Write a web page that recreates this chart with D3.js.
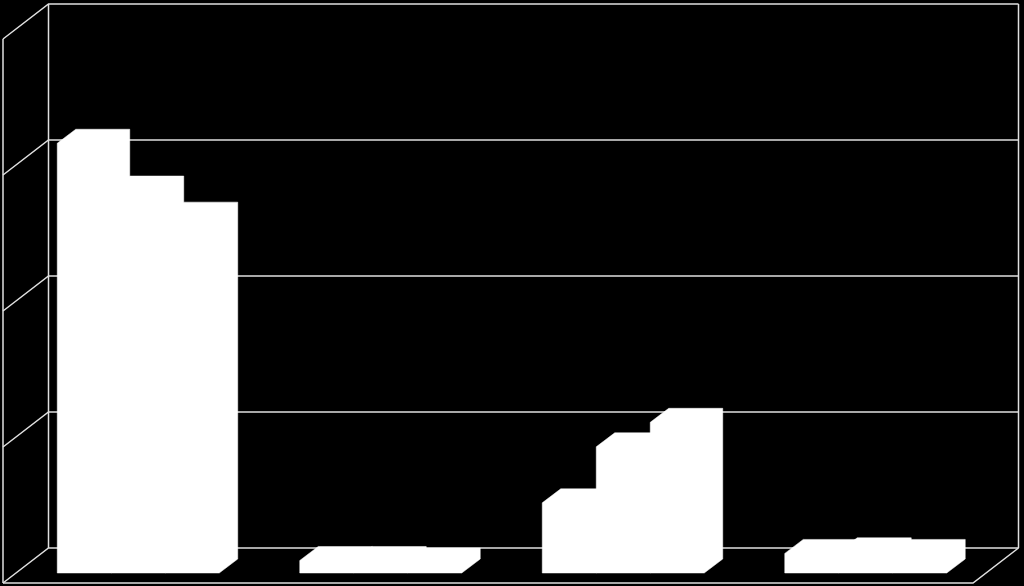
<!DOCTYPE html>
<html>
<head>
<meta charset="utf-8">
<style>
  html, body { margin: 0; padding: 0; background: #000; overflow: hidden; }
  svg { display: block; }
</style>
</head>
<body>
<svg width="1024" height="586"></svg>
<script src="https://d3js.org/d3.v7.min.js"></script>
<script>

// values, the chart has no visible labels
const categories = ["A", "B", "C", "D"];
const series = ["s1", "s2", "s3"];
const s1Values = [79.0, 2.3, 12.9, 3.6];
const s2Values = [70.4, 2.3, 23.2, 3.9];
const s3Values = [65.6, 2.0, 27.7, 3.6];
const yTicks = [0, 25, 50, 75, 100];

const svg = d3.select("svg");

// front plane of the 3d box
const left = 3, right = 973, bottom = 583;
const depthX = 45.5, depthY = -35;
// bars sit part way into the box
const barOffX = 14, barOffY = -10;
const barDepthX = 18.5, barDepthY = -14;

const x0 = d3.scaleBand().domain(categories).range([left, right]).paddingOuter(0.166).paddingInner(0.332);
const x1 = d3.scaleBand().domain(series).range([0, x0.bandwidth()]);
const y = d3.scaleLinear().domain([0, 100]).range([bottom, bottom - 544]);

const gridColor = "#e0e0e0";
const grid = svg.append("g")
  .attr("fill", "none")
  .attr("stroke", gridColor)
  .attr("stroke-width", 1.5);

// back wall and left wall lines at each tick
grid.selectAll("polyline")
  .data(yTicks)
  .enter()
  .append("polyline")
  .attr("points", function(d) {
    return [[left, y(d)], [left + depthX, y(d) + depthY], [right + depthX, y(d) + depthY]].join(" ");
  });

// verticals
const verticals = [left, left + depthX, right + depthX];
grid.selectAll("line.v")
  .data(verticals)
  .enter()
  .append("line")
  .attr("class", "v")
  .attr("x1", d => d)
  .attr("x2", d => d)
  .attr("y1", d => d === left ? y(100) : y(100) + depthY)
  .attr("y2", d => d === left ? y(0) : y(0) + depthY);

// floor front and right edges
grid.append("polyline")
  .attr("points", [[left, y(0)], [right, y(0)], [right + depthX, y(0) + depthY]].join(" "));

const bars = [];
categories.forEach(function(c, i) {
  [s1Values, s2Values, s3Values].forEach(function(vals, j) {
    bars.push({ cat: c, ser: series[j], value: vals[i] });
  });
});

// a bar is drawn as one outline: front, top and side faces, all white
function barPath(d) {
  const xa = x0(d.cat) + x1(d.ser) + barOffX;
  const xb = xa + x1.bandwidth();
  const yb = y(0) + barOffY;
  const yt = y(d.value) + barOffY;
  return [
    [xa, yb], [xb, yb],
    [xb + barDepthX, yb + barDepthY],
    [xb + barDepthX, yt + barDepthY],
    [xa + barDepthX, yt + barDepthY],
    [xa, yt]
  ].join(" ");
}

svg.append("g")
  .selectAll("polygon")
  .data(bars)
  .enter()
  .append("polygon")
  .attr("fill", "#fff")
  .attr("stroke", "#fff")
  .attr("stroke-width", 0.5)
  .attr("points", barPath);

</script>
</body>
</html>
